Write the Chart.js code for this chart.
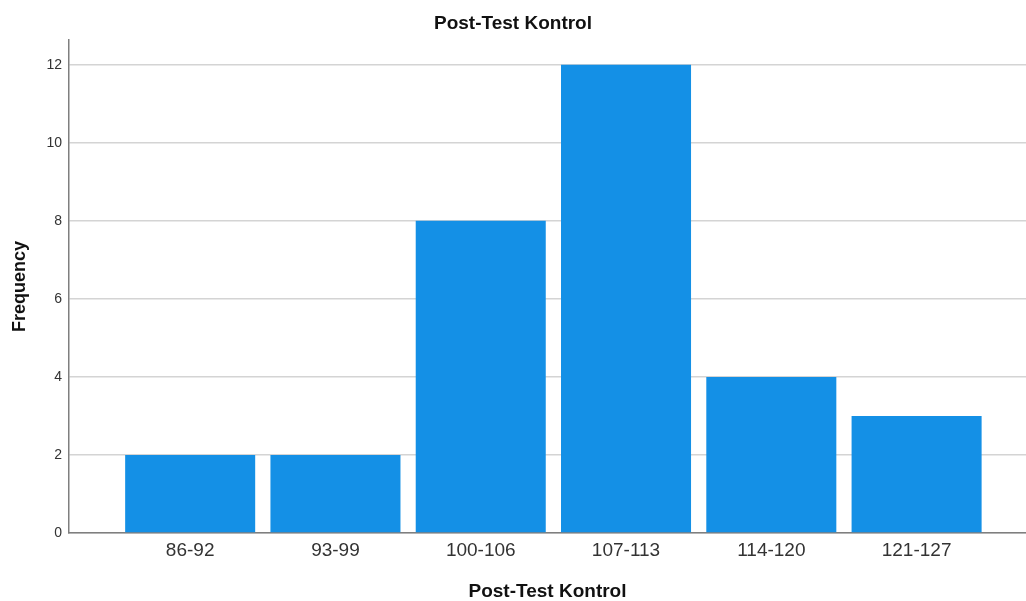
<!DOCTYPE html>
<html>
<head>
<meta charset="utf-8">
<script src="https://cdn.jsdelivr.net/npm/chart.js@4.4.1/dist/chart.umd.min.js"></script>
<style>
  html, body { margin: 0; padding: 0; background: #fff; }
  #wrap { width: 1026px; height: 601px; }
</style>
</head>
<body>
<div id="wrap"><canvas id="histChart"></canvas></div>
<script>
// Post-Test Kontrol - frequency per class interval
const categories = ['86-92', '93-99', '100-106', '107-113', '114-120', '121-127'];
const frequency = [2, 2, 8, 12, 4, 3];
const yTicks = [0, 2, 4, 6, 8, 10, 12];

const FONT = "'Liberation Sans', Arial, sans-serif";

function renderHistChart() {
    const ctx = document.getElementById('histChart');
    if (!ctx) return;

    new Chart(ctx, {
        type: 'bar',
        data: {
            datasets: [{
                label: 'Frequency',
                data: categories.map(function(c, i) { return { x: i, y: frequency[i] }; }),
                backgroundColor: '#1490E6',
                borderWidth: 0,
                categoryPercentage: 1.0,
                barPercentage: 0.895
            }]
        },
        options: {
            responsive: true,
            maintainAspectRatio: false,
            animation: false,
            layout: { padding: { left: 0, right: 0, top: 0, bottom: 0 } },
            scales: {
                x: {
                    type: 'linear',
                    offset: false,
                    min: -0.834,
                    max: 5.753,
                    grid: { display: false, drawTicks: false },
                    border: { display: true, color: '#7f7f7f', width: 1.5 },
                    afterBuildTicks: function(axis) {
                        axis.ticks = categories.map(function(c, i) { return { value: i }; });
                    },
                    afterFit: function(scale) { scale.height = 68; },
                    ticks: {
                        autoSkip: false,
                        maxRotation: 0,
                        padding: 6,
                        color: '#333',
                        font: { family: FONT, size: 19 },
                        callback: function(v) { return categories[v]; }
                    },
                    title: {
                        display: true,
                        text: 'Post-Test Kontrol',
                        color: '#111',
                        font: { family: FONT, size: 19, weight: 'bold', lineHeight: 1 },
                        padding: { top: 0, bottom: 0 }
                    }
                },
                y: {
                    min: 0,
                    max: 12.64,
                    afterBuildTicks: function(axis) {
                        axis.ticks = yTicks.map(function(v) { return { value: v }; });
                    },
                    afterFit: function(scale) { scale.width = 69; },
                    grid: { color: '#d4d4d4', lineWidth: 1.5, drawTicks: false },
                    border: { display: true, color: '#7f7f7f', width: 1.5 },
                    ticks: {
                        padding: 7,
                        color: '#333',
                        font: { family: FONT, size: 14 }
                    },
                    title: {
                        display: true,
                        text: 'Frequency',
                        color: '#111',
                        font: { family: FONT, size: 18, weight: 'bold', lineHeight: 1.1 },
                        padding: { top: 10, bottom: 0 }
                    }
                }
            },
            plugins: {
                legend: { display: false },
                tooltip: { enabled: false },
                title: {
                    display: true,
                    text: 'Post-Test Kontrol',
                    color: '#111',
                    font: { family: FONT, size: 19, weight: 'bold', lineHeight: 1.2 },
                    padding: { top: 12, bottom: 5 }
                }
            }
        }
    });
}

renderHistChart();
</script>
</body>
</html>
